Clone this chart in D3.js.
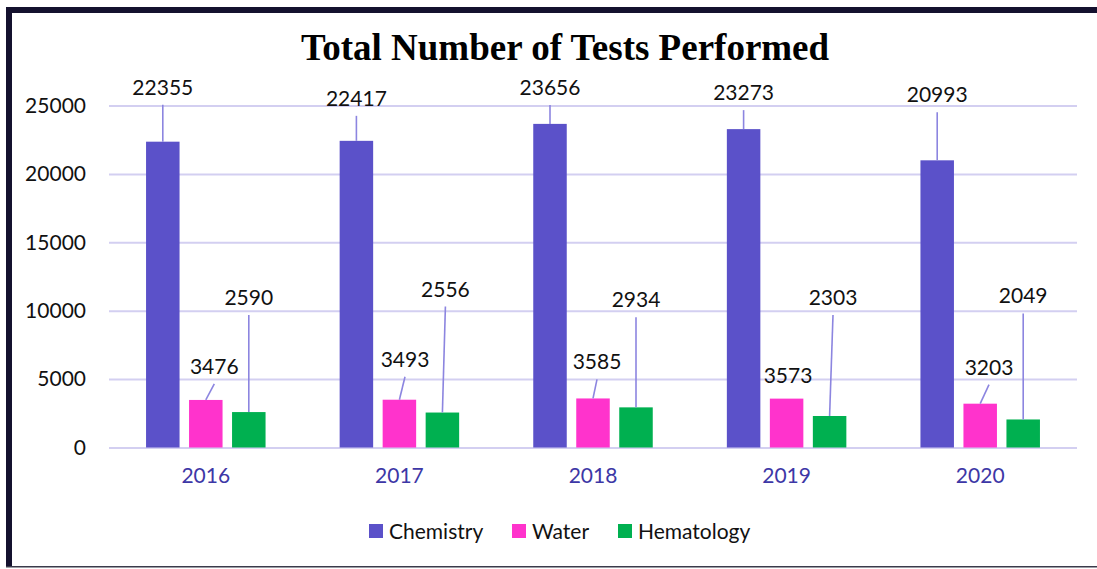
<!DOCTYPE html>
<html><head><meta charset="utf-8">
<script src="https://cdn.jsdelivr.net/npm/d3@7"></script>
<style>html,body{margin:0;padding:0;background:#fff;}svg{display:block;}</style>
</head><body>
<svg id="chart" width="1097" height="569"></svg>
<script>
// ---- data ----
const years = ["2016", "2017", "2018", "2019", "2020"];
const seriesNames = ["Chemistry", "Water", "Hematology"];
const chemistry = [22355, 22417, 23656, 23273, 20993];
const water = [3476, 3493, 3585, 3573, 3203];
const hematology = [2590, 2556, 2934, 2303, 2049];
const yTicks = [0, 5000, 10000, 15000, 20000, 25000];
const titleText = "Total Number of Tests Performed";

// ---- layout (label offsets relative to bar top-centre: [dx, baseline dy]) ----
const labelOffsets = [
  [[0, -47], [0, -35], [0, -29], [0, -29], [0, -58]],
  [[8.5, -26], [5.6, -33], [4, -29], [1.4, -16], [8.8, -29]],
  [[0, -107], [3, -116], [0, -100], [3.4, -111], [0, -116]]
];
const colors = ["#5B51C9", "#FF33CC", "#00B050"];

const svg = d3.select("#chart");
const W = 1097, H = 569;
const plot = {left: 109, right: 1077, top: 105.5, bottom: 447.5};

// frame
svg.append("rect").attr("x", 6).attr("y", 7).attr("width", 6).attr("height", 560).attr("fill", "#14112e");
svg.append("rect").attr("x", 6).attr("y", 7).attr("width", W - 6).attr("height", 6).attr("fill", "#14112e");
svg.append("rect").attr("x", 6).attr("y", 566).attr("width", W - 6).attr("height", 1.5).attr("fill", "#3a3a4a");

const x0 = d3.scaleBand().domain(years).range([plot.left, plot.right]).paddingInner(0).paddingOuter(0);
const y = d3.scaleLinear().domain([0, 25000]).range([plot.bottom, plot.top]);
const barW = 33.5, gap = 9.5;
const x1 = d3.scaleBand().domain(seriesNames).range([0, barW * 3 + gap * 2]).paddingInner(gap / (barW + gap)).paddingOuter(0);

// gridlines
const yAxis = d3.axisLeft(y).tickValues(yTicks).tickSize(-(plot.right - plot.left)).tickPadding(23).tickFormat(d3.format("d"));
const gy = svg.append("g").attr("transform", `translate(${plot.left},0)`).call(yAxis);
gy.select(".domain").remove();
gy.selectAll(".tick line").attr("stroke", "#D3CFF1").attr("stroke-width", 2);
gy.selectAll(".tick text").attr("font-family", "Lato, 'Open Sans', sans-serif").attr("font-size", 21).attr("fill", "#111");

// x axis labels
const xAxis = d3.axisBottom(x0).tickSize(0).tickPadding(21);
const gx = svg.append("g").attr("transform", `translate(0,${plot.bottom})`).call(xAxis);
gx.select(".domain").remove();
gx.selectAll(".tick text").attr("font-family", "Lato, 'Open Sans', sans-serif").attr("font-size", 21).attr("fill", "#3D37A6");

const seriesData = [chemistry, water, hematology];
const groups = svg.append("g");
const barsBand = barW * 3 + gap * 2;

seriesData.forEach((vals, si) => {
  vals.forEach((v, i) => {
    const gx0 = x0(years[i]) + x0.bandwidth() / 2 - barsBand / 2;
    const bx = gx0 + x1(seriesNames[si]);
    const bw = x1.bandwidth();
    groups.append("rect").attr("x", bx).attr("y", y(v)).attr("width", bw).attr("height", y(0) - y(v)).attr("fill", colors[si]);
  });
});

// labels + leader lines
const lab = svg.append("g");
seriesData.forEach((vals, si) => {
  vals.forEach((v, i) => {
    const gx0 = x0(years[i]) + x0.bandwidth() / 2 - barsBand / 2;
    const cx = gx0 + x1(seriesNames[si]) + x1.bandwidth() / 2;
    const top = y(v);
    const [dx, dy] = labelOffsets[si][i];
    const lx = cx + dx, ly = top + dy;
    const startY = ly + 10;
    if (top - startY > 8) {
      lab.append("line").attr("x1", lx).attr("y1", startY).attr("x2", cx).attr("y2", top)
        .attr("stroke", "#8C85E0").attr("stroke-width", 1.6);
    }
    lab.append("text").attr("x", lx).attr("y", ly).attr("text-anchor", "middle")
      .attr("font-family", "Lato, 'Open Sans', sans-serif").attr("font-size", 21).attr("fill", "#111").text(d3.format("d")(v));
  });
});

// title
svg.append("text").attr("x", 565).attr("y", 60).attr("text-anchor", "middle")
  .attr("font-family", "'Liberation Serif', 'Times New Roman', serif").attr("font-weight", "bold").attr("font-size", 37)
  .attr("fill", "#000").text(titleText);

// legend
const legendX = [369, 512, 618];
const lg = svg.append("g");
seriesNames.forEach((n, i) => {
  lg.append("rect").attr("x", legendX[i]).attr("y", 524).attr("width", 14).attr("height", 14).attr("fill", colors[i]);
  lg.append("text").attr("x", legendX[i] + 20).attr("y", 538.5).attr("font-family", "Lato, 'Open Sans', sans-serif")
    .attr("font-size", 21).attr("fill", "#111").text(n);
});
</script>
</body></html>
